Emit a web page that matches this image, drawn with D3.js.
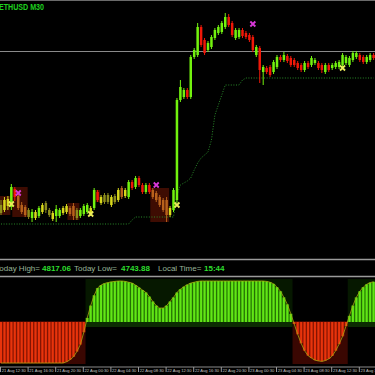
<!DOCTYPE html>
<html>
<head>
<meta charset="utf-8">
<script src="https://cdn.jsdelivr.net/npm/d3@7"></script>
<style>
  html, body { margin: 0; padding: 0; background: #000; }
  svg { display: block; }
</style>
</head>
<body>
<svg id="chart" width="375" height="375"></svg>
<script>
'use strict'

// ETHUSD M30 bars, first bar at 21 Aug 12:30
const startTime = new Date(2025, 7, 21, 12, 30)
const barMinutes = 30

const opens = [
  4311,4320,4332,4329,4383,4362,4335,4329,4299,4296,
  4296,4302,4314,4320,4305,4293,4302,4302,4311,4314,
  4326,4332,4296,4302,4308,4314,4308,4326,4374,4341,
  4344,4344,4335,4344,4350,4386,4362,4359,4404,4389,
  4416,4395,4374,4395,4380,4371,4359,4350,4350,4305,
  4320,4350,4650,4659,4680,4659,4779,4785,4869,4830,
  4800,4809,4836,4851,4854,4869,4899,4881,4836,4839,
  4860,4851,4845,4839,4785,4806,4734,4746,4749,4734,
  4749,4779,4770,4782,4776,4770,4761,4755,4740,4761,
  4755,4761,4761,4755,4734,4755,4746,4749,4749,4755,
  4761,4755,4770,4779,4785,4779,4764,4770,4785
]
const highs = [
  4350,4359,4362,4398,4389,4371,4344,4335,4326,4323,
  4320,4332,4341,4347,4326,4317,4335,4326,4332,4338,
  4332,4341,4326,4326,4338,4341,4332,4386,4380,4365,
  4371,4371,4365,4368,4386,4392,4386,4410,4410,4422,
  4422,4401,4401,4401,4386,4377,4365,4356,4359,4332,
  4386,4656,4710,4686,4686,4785,4806,4881,4875,4836,
  4827,4845,4866,4875,4887,4911,4908,4887,4866,4866,
  4866,4857,4851,4845,4815,4812,4755,4752,4755,4770,
  4785,4785,4794,4788,4782,4776,4767,4761,4767,4767,
  4782,4776,4767,4761,4761,4761,4761,4767,4770,4791,
  4785,4782,4797,4797,4791,4785,4785,4791,4791
]
const lows = [
  4305,4314,4320,4320,4347,4320,4308,4299,4293,4284,
  4290,4296,4308,4311,4299,4287,4284,4296,4305,4308,
  4302,4290,4290,4296,4302,4308,4302,4320,4344,4335,
  4338,4338,4329,4338,4344,4353,4356,4353,4380,4383,
  4389,4368,4368,4368,4353,4344,4329,4314,4284,4299,
  4314,4341,4644,4653,4653,4653,4773,4779,4809,4785,
  4794,4803,4830,4845,4848,4863,4869,4839,4830,4833,
  4836,4833,4824,4794,4779,4701,4695,4728,4719,4728,
  4743,4764,4764,4761,4749,4749,4740,4734,4734,4743,
  4749,4755,4740,4731,4728,4734,4740,4743,4743,4749,
  4755,4749,4764,4773,4764,4758,4758,4764,4770
]
const closes = [
  4335,4350,4353,4389,4359,4326,4314,4305,4320,4314,
  4314,4326,4335,4341,4320,4311,4323,4320,4326,4332,
  4308,4302,4320,4320,4332,4335,4326,4380,4350,4359,
  4365,4365,4359,4362,4380,4359,4380,4404,4386,4416,
  4395,4374,4395,4374,4359,4350,4335,4320,4305,4326,
  4380,4650,4689,4680,4659,4779,4800,4869,4815,4791,
  4821,4839,4860,4869,4881,4899,4875,4845,4860,4860,
  4842,4839,4830,4800,4809,4740,4749,4734,4725,4764,
  4779,4770,4785,4767,4755,4755,4746,4740,4761,4749,
  4776,4770,4746,4740,4755,4740,4755,4761,4764,4785,
  4779,4776,4791,4791,4770,4764,4779,4785,4776
]
// candle colour class: G up, R down, Y weak up, L flat, O weak down
const tones = (
  'LYYGROOOLG' + 'YGYLLYGGYY' + 'OOLGGGYGRY' + 'LLYLYOYGRG' + 'RRGROOOOOY' +
  'GGGGRGGGRR' + 'GGGGGGRRGG' + 'RRRRGRGRRG' + 'GRGRRRRRGR' + 'GGRRGRGGGG' + 'GGGGRRGGR'
).split('')

// dotted trailing stop
const trail = [].concat(
  Array(38).fill(4278), [4290], Array(12).fill(4299),
  [4365,4395,4401,4407,4416,4440,4461,4476,4485,4494,4530,4605,4635,4665],
  Array(5).fill(4695), [4710], Array(38).fill(4716)
)

// dark heat blocks [first bar, last bar]
const heatZones = [[0, 2], [4, 7], [20, 22], [28, 28], [44, 48]]

// signal crosses [bar, price]
const buySignals = [[3, 4338], [26, 4308], [51, 4335], [99, 4746]]
const sellSignals = [[5, 4371], [45, 4395], [73, 4878]]

const bidPrice = 4797

// lower window oscillator
const oscValues = [
  -100,-100,-100,-100,-100,-100,-100,-100,-100,-100,
  -100,-100,-100,-100,-100,-100,-100,-100,-100,-97,
  -92,-85,-72,-55,-25,10,40,65,83,90,
  94,96,98,99,100,100,99,97,95,90,
  84,78,72,62,50,40,34,34,40,50,
  60,72,80,86,91,95,97,99,100,100,
  100,100,100,100,100,100,100,100,100,100,
  100,100,100,100,100,100,100,99,97,93,
  85,75,60,43,20,-5,-30,-52,-70,-82,
  -88,-93,-95,-96,-94,-90,-83,-70,-54,-35,
  -10,15,40,60,75,85,92,96,98
]

const infoItems = [
  {label: 'Today High=', value: '4817.06'},
  {label: 'Today Low=', value: '4743.88'},
  {label: 'Local Time=', value: '15:44'}
]

const times = opens.map((d, i) => d3.timeMinute.offset(startTime, i * barMinutes))
const bars = times.map((t, i) => ({t, o: opens[i], h: highs[i], l: lows[i], c: closes[i], tone: tones[i], osc: oscValues[i], trail: trail[i]}))

const svg = d3.select('#chart')
svg.append('rect').attr('width', 375).attr('height', 375).attr('fill', '#000')

const step = 3.45
const x = d3.scaleTime().domain([times[0], times[times.length - 1]]).range([1, 1 + step * (times.length - 1)])
const y = d3.scaleLinear().domain([4200, 4950]).range([250, 0])
const yo = d3.scaleLinear().domain([-100, 100]).range([363, 281])

const toneColor = d3.scaleOrdinal()
  .domain(['G', 'R', 'Y', 'L', 'O'])
  .range(['#72f20e', '#f01808', '#d8d81c', '#8e8e1c', '#b8621c'])

// ---------- main window ----------
svg.append('clipPath').attr('id', 'mainClip').append('rect').attr('width', 375).attr('height', 257)
const main = svg.append('g').attr('clip-path', 'url(#mainClip)')

main.append('line').attr('x1', 0).attr('x2', 375).attr('y1', 0.5).attr('y2', 0.5)
  .attr('stroke', '#6a6a6a')

// heat blocks
main.selectAll('rect.heat').data(heatZones).enter().append('rect')
  .attr('class', 'heat')
  .attr('x', d => x(times[d[0]]) - 2.5)
  .attr('width', d => x(times[d[1]]) - x(times[d[0]]) + 5)
  .attr('y', d => y(d3.max(highs.slice(d[0], d[1] + 1))))
  .attr('height', d => y(d3.min(lows.slice(d[0], d[1] + 1))) - y(d3.max(highs.slice(d[0], d[1] + 1))))
  .attr('fill', '#3e0c02')

// bid line
main.append('line').attr('x1', 0).attr('x2', 375)
  .attr('y1', Math.round(y(bidPrice)) + 0.5).attr('y2', Math.round(y(bidPrice)) + 0.5)
  .attr('stroke', '#8a8a8a')

// trailing stop (dotted)
main.append('path').datum(bars)
  .attr('d', d3.line().x(d => x(d.t)).y(d => y(d.trail)))
  .attr('fill', 'none').attr('stroke', '#2a8c2a').attr('stroke-width', 1)
  .attr('stroke-dasharray', '1 1.6')

// candles
const candle = main.selectAll('g.candle').data(bars).enter().append('g').attr('class', 'candle')
candle.append('line')
  .attr('x1', d => x(d.t)).attr('x2', d => x(d.t))
  .attr('y1', d => y(d.h)).attr('y2', d => y(d.l))
  .attr('stroke', d => toneColor(d.tone)).attr('stroke-width', 1)
candle.append('rect')
  .attr('x', d => x(d.t) - 1.25).attr('width', 2.5)
  .attr('y', d => y(Math.max(d.o, d.c)))
  .attr('height', d => Math.max(1, Math.abs(y(d.o) - y(d.c))))
  .attr('fill', d => toneColor(d.tone))

// signal crosses
function drawCross(data, color) {
  const g = main.selectAll(null).data(data).enter().append('g')
    .attr('transform', d => `translate(${x(times[d[0]])},${y(d[1])})`)
  g.append('path').attr('d', 'M-2.5,-2.5L2.5,2.5M-2.5,2.5L2.5,-2.5')
    .attr('stroke', color).attr('stroke-width', 1.8)
}
drawCross(buySignals, '#ecec5a')
drawCross(sellSignals, '#d838d8')

// symbol title
svg.append('text').attr('x', -1).attr('y', 9.5)
  .attr('font-family', 'Liberation Sans, Arial, sans-serif').attr('font-weight', 'bold')
  .attr('font-size', 9).attr('fill', '#1ed21e')
  .attr('textLength', 45).attr('lengthAdjust', 'spacingAndGlyphs')
  .text('ETHUSD M30')

// ---------- info bar ----------
svg.append('line').attr('x1', 0).attr('x2', 375).attr('y1', 259.5).attr('y2', 259.5)
  .attr('stroke', '#9a9a9a').attr('stroke-width', 1.6)
svg.append('line').attr('x1', 0).attr('x2', 375).attr('y1', 276.5).attr('y2', 276.5)
  .attr('stroke', '#9a9a9a').attr('stroke-width', 1.6)

const infoX = [{label: 40, value: 42}, {label: 74, value: 121}, {label: 158, value: 204}]
const info = svg.append('g').attr('font-family', 'Liberation Sans, Arial, sans-serif').attr('font-size', 8)
infoItems.forEach((d, i) => {
  info.append('text')
    .attr('x', infoX[i].label).attr('y', 271)
    .attr('text-anchor', i === 0 ? 'end' : 'start')
    .attr('fill', '#98b498')
    .text(d.label)
  info.append('text')
    .attr('x', infoX[i].value).attr('y', 271)
    .attr('font-weight', 'bold').attr('fill', '#2ede2e')
    .text(d.value)
})

// ---------- oscillator window ----------
const osc = svg.append('g')
const zeroY = yo(0)

// background runs behind the histogram
const runs = []
bars.forEach((d, i) => {
  const sign = d.osc >= 0 ? 1 : -1
  if (runs.length && runs[runs.length - 1].sign === sign) runs[runs.length - 1].end = i
  else runs.push({sign, start: i, end: i})
})
osc.selectAll('rect.run').data(runs).enter().append('rect')
  .attr('class', 'run')
  .attr('x', d => x(times[d.start]) - step / 2)
  .attr('width', d => x(times[d.end]) - x(times[d.start]) + step)
  .attr('y', d => d.sign > 0 ? yo(100) - 2 : zeroY - 1)
  .attr('height', d => d.sign > 0 ? zeroY - yo(100) + 2 : yo(-100) - zeroY + 2)
  .attr('fill', d => d.sign > 0 ? '#061800' : '#3a0702')
// thin dark band under the green runs
osc.selectAll('rect.band').data(runs.filter(d => d.sign > 0)).enter().append('rect')
  .attr('class', 'band')
  .attr('x', d => x(times[d.start]) - step / 2)
  .attr('width', d => x(times[d.end]) - x(times[d.start]) + step)
  .attr('y', zeroY).attr('height', 5)
  .attr('fill', '#0c2c02')

// wide dark bars
osc.selectAll('rect.wide').data(bars).enter().append('rect')
  .attr('class', 'wide')
  .attr('x', d => x(d.t) - step / 2).attr('width', step)
  .attr('y', d => Math.min(yo(d.osc), zeroY))
  .attr('height', d => Math.abs(yo(d.osc) - zeroY))
  .attr('fill', d => d.osc >= 0 ? '#2f8c06' : '#9a1a04')

// thin bright bars
osc.selectAll('rect.thin').data(bars).enter().append('rect')
  .attr('class', 'thin')
  .attr('x', d => x(d.t) - 1).attr('width', 2)
  .attr('y', d => Math.min(yo(d.osc), zeroY))
  .attr('height', d => Math.abs(yo(d.osc) - zeroY))
  .attr('fill', d => d.osc >= 0 ? '#62e616' : '#e8340c')

// signal line along the top
osc.append('path').datum(bars)
  .attr('d', d3.line().x(d => x(d.t)).y(d => yo(d.osc)))
  .attr('fill', 'none').attr('stroke', '#a8a810').attr('stroke-width', 1).attr('opacity', 0.8)

// ---------- time axis ----------
svg.append('line').attr('x1', 0).attr('x2', 375).attr('y1', 367).attr('y2', 367)
  .attr('stroke', '#8a8a8a')

const tickTimes = d3.range(0, times.length, 8).map(i => times[i])
const axis = svg.append('g')
  .attr('transform', 'translate(-1,367)')
  .call(d3.axisBottom(x).tickValues(tickTimes).tickSize(5).tickSizeOuter(0)
    .tickFormat(d3.timeFormat('%d %b %H:%M')))
axis.select('.domain').remove()
axis.selectAll('.tick line').attr('stroke', '#9a9a9a')
axis.selectAll('.tick text')
  .attr('y', 1.8).attr('dx', 1.2)
  .attr('text-anchor', 'start')
  .attr('fill', '#c4c4c4')
  .attr('font-family', 'Liberation Sans, Arial, sans-serif')
  .attr('font-size', 4.1)
</script>
</body>
</html>
